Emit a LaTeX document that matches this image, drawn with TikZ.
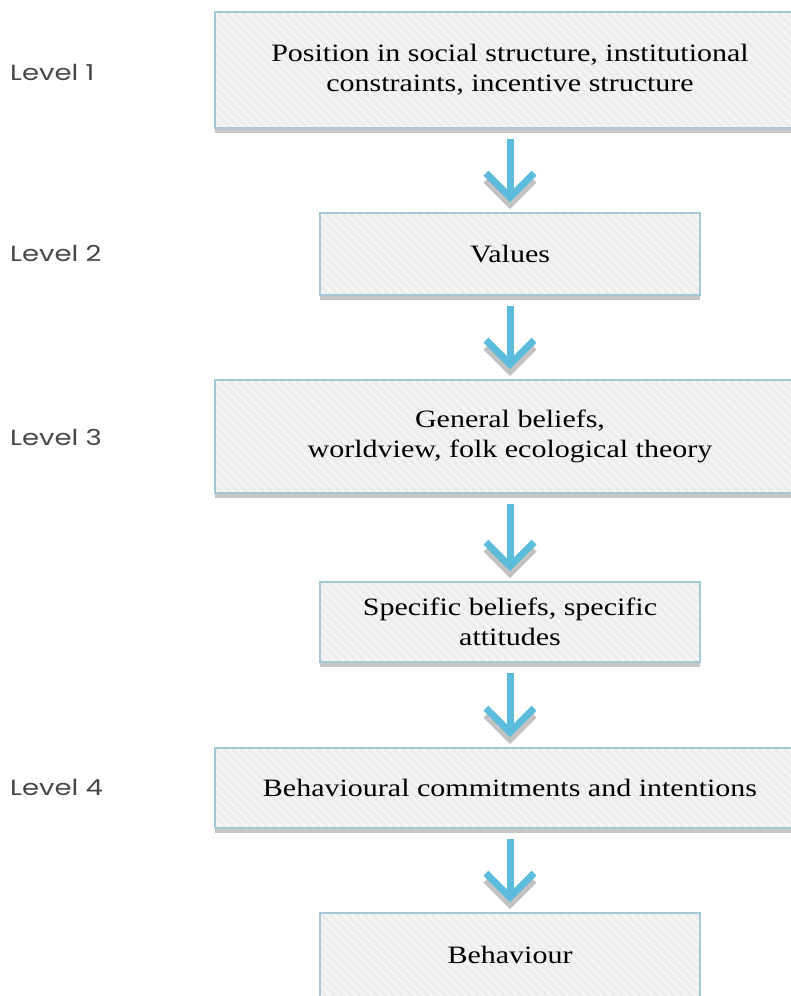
\documentclass[tikz,border=0pt]{standalone}
\usepackage{fontspec}
\setmainfont{Liberation Serif}[FakeStretch=1.2]
\newfontfamily\lvfont{Poppins}[FakeStretch=1.25]
\usetikzlibrary{calc,patterns.meta,shadows}
\definecolor{boxfill}{HTML}{EDEDED}
\definecolor{stripe}{HTML}{F6F6F6}
\definecolor{boxline}{HTML}{A3C9D7}
\definecolor{boxshadow}{HTML}{C6C6C6}
\definecolor{arrowblue}{HTML}{5BBCDC}
\definecolor{arrowshadow}{HTML}{C2C2C2}
\definecolor{lvgray}{HTML}{474747}
\tikzset{
  flowbox/.style={draw=boxline, line width=1.6pt,
    drop shadow={shadow xshift=0pt, shadow yshift=-5pt, fill=boxshadow, opacity=1},
    preaction={fill=boxfill},
    pattern={Lines[angle=-45,distance=6pt,line width=2.2pt]}, pattern color=stripe,
    align=center, inner sep=0pt, font=\fontsize{25}{30}\selectfont},
  widebox/.style={flowbox, minimum width=590pt},
  narrowbox/.style={flowbox, minimum width=380pt},
  levellabel/.style={anchor=west, inner sep=0pt, text=lvgray, font=\lvfont\fontsize{22}{26}\selectfont},
  arrowline/.style={line width=7pt, line join=miter, line cap=butt}
}
\newcommand\flowarrow[2]{%
  \foreach \col/\dy in {arrowshadow/-7,arrowblue/0}{%
    \draw[arrowline, draw=\col] ($(#1.south)+(0,-10+\dy)$) -- ($(#2.north)+(0,16+\dy)$);
    \draw[arrowline, draw=\col] ($(#2.north)+(-24,39+\dy)$) -- ($(#2.north)+(0,15+\dy)$) -- ($(#2.north)+(24,39+\dy)$);
  }%
}
\begin{document}
\begin{tikzpicture}[x=1pt,y=1pt]
\useasboundingbox (0,0) rectangle (791,-996);
\clip (0,0) rectangle (791,-996);
\node[widebox, minimum height=116pt] (b1) at (510,-70) {Position in social structure, institutional\\constraints, incentive structure};
\node[narrowbox, minimum height=82pt] (b2) at (510,-254) {Values};
\node[widebox, minimum height=113pt] (b3) at (510,-436.5) {General beliefs,\\worldview, folk ecological theory};
\node[narrowbox, minimum height=80pt] (b4) at (510,-622) {Specific beliefs, specific\\attitudes};
\node[widebox, minimum height=80pt] (b5) at (510,-788) {Behavioural commitments and intentions};
\node[narrowbox, minimum height=84pt] (b6) at (510,-955) {Behaviour};
\node[levellabel] (l1) at (10,-72) {Level 1};
\node[levellabel] (l2) at (10,-253) {Level 2};
\node[levellabel] (l3) at (10,-437) {Level 3};
\node[levellabel] (l4) at (10,-787) {Level 4};
\flowarrow{b1}{b2}
\flowarrow{b2}{b3}
\flowarrow{b3}{b4}
\flowarrow{b4}{b5}
\flowarrow{b5}{b6}
\end{tikzpicture}
\end{document}
